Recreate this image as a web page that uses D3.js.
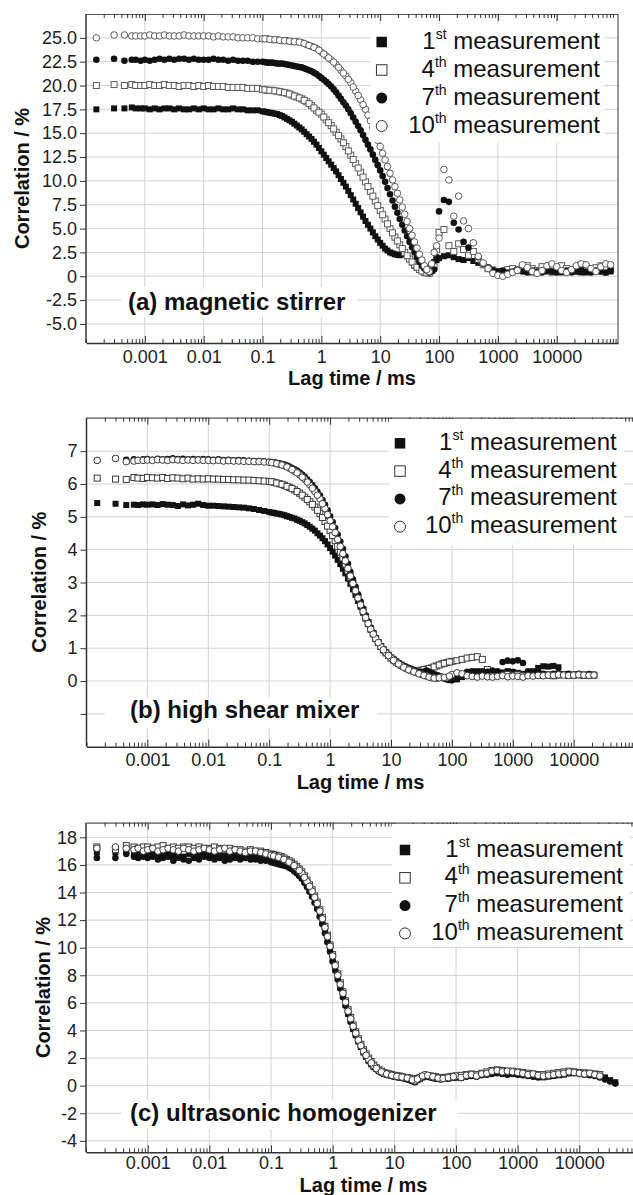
<!DOCTYPE html>
<html><head><meta charset="utf-8">
<script src="https://cdn.jsdelivr.net/npm/d3@7"></script>
<style>
body{margin:0;background:#fff}
svg{display:block}
text{font-family:"Liberation Sans",Arial,Helvetica,sans-serif}
</style>
</head><body>
<svg id="chart" width="633" height="1195"></svg>
<script>
// ---------------- DATA ----------------
const lagTimes = [0.00015,0.0003,0.00045,0.0006,0.0007,0.00085,
0.001,0.00121,0.00147,0.00178,0.00215,0.00261,0.00316,0.00383,0.00464,0.00562,0.00681,0.00825,
0.01,0.0121,0.0147,0.0178,0.0215,0.0261,0.0316,0.0383,0.0464,0.0562,0.0681,0.0825,
0.1,0.121,0.147,0.178,0.215,0.261,0.316,0.383,0.464,0.562,0.681,0.825,
1,1.21,1.47,1.78,2.15,2.61,3.16,3.83,4.64,5.62,6.81,8.25,
10,12.1,14.7,17.8,21.5,26.1,31.6,38.3,46.4,56.2,68.1,82.5,
100,121,147,178,215,261,316,383,464,562,681,825,
1000,1210,1470,1780,2150,2610,3160,3830,4640,5620,6810,8250,
10000,12100,14700,17800,21500,26100,31600,38300,46400,56200,68100,82500];
// extra channels in the decay region (0.1 - 100 ms)
const lagTimesMid = [0.11,0.133,0.162,0.196,0.237,0.287,0.348,0.422,0.511,0.619,0.75,0.908,
1.1,1.33,1.62,1.96,2.37,2.87,3.48,4.22,5.11,6.19,7.5,9.08,
11,13.3,16.2,19.6,23.7,28.7,34.8,42.2,51.1,61.9,75,90.8];

const legendNumbers = ["1","4","7","10"];
const legendSuffixes = ["st","th","th","th"];
const legendWord = "measurement";

const xTickValues = [0.001,0.01,0.1,1,10,100,1000,10000];
const xTickLabels = ["0.001","0.01","0.1","1","10","100","1000","10000"];
const xTitle = "Lag time / ms";
const yTitle = "Correlation / %";
const panelTitles = ["(a) magnetic stirrer","(b) high shear mixer","(c) ultrasonic homogenizer"];

// panel (a) magnetic stirrer
const aYTicks = [-5,-2.5,0,2.5,5,7.5,10,12.5,15,17.5,20,22.5,25];
const aYLabels = ["-5.0","-2.5","0","2.5","5.0","7.5","10.0","12.5","15.0","17.5","20.0","22.5","25.0"];
const a1 = [17.5,17.6,17.6,17.7,17.6,17.6,
17.6,17.5,17.6,17.5,17.6,17.6,17.5,17.6,17.5,17.5,17.6,17.5,
17.6,17.5,17.5,17.6,17.5,17.5,17.6,17.5,17.5,17.4,17.4,17.4,
17.3,17.2,17.1,17.0,16.8,16.5,16.2,15.8,15.4,14.9,14.4,13.8,
13.1,12.4,11.7,11.0,10.2,9.4,8.5,7.6,6.7,5.8,5.0,4.2,
3.5,2.9,2.5,2.3,2.2,2.4,1.8,1.1,0.7,0.5,0.9,1.5,
1.9,2.1,2.2,2.0,1.8,1.7,1.9,1.6,1.4,1.2,0.9,0.7,
0.5,0.5,0.6,0.5,0.6,0.7,0.5,0.4,0.5,0.6,0.5,0.4,
0.5,0.4,0.5,0.6,0.5,0.4,0.4,0.5,0.6,0.5,0.4,0.5];
const a1Mid = [17.25,17.15,17.05,16.9,16.65,16.35,16.0,15.6,15.15,14.65,14.1,13.45,
12.75,12.05,11.35,10.6,9.8,8.95,8.05,7.15,6.25,5.4,4.6,3.85,
3.2,2.7,2.4,2.25,2.3,2.1,1.45,0.9,0.6,0.6,1.2,1.7];
const a4 = [20.0,20.1,20.0,20.1,20.0,20.0,
20.0,20.1,20.0,20.0,20.1,20.0,20.0,19.9,20.0,20.0,19.9,20.0,
19.9,20.0,19.9,19.9,19.9,19.8,19.8,19.8,19.8,19.7,19.7,19.7,
19.6,19.5,19.5,19.4,19.3,19.2,19.0,18.8,18.6,18.3,17.9,17.4,
17.0,16.4,15.8,15.1,14.4,13.6,12.7,11.8,10.9,9.9,8.9,7.9,
6.9,6.0,5.0,4.1,3.3,2.5,1.8,1.2,0.7,0.4,0.3,1.0,
4.6,4.9,3.2,2.6,3.4,2.8,2.2,2.6,1.8,1.2,0.8,0.6,
0.4,0.5,0.7,0.8,0.6,0.9,1.1,0.8,0.6,1.0,0.7,0.5,
0.9,1.1,0.8,0.6,0.9,1.2,1.0,0.7,0.9,1.1,0.8,0.7];
const a4Mid = [19.55,19.5,19.45,19.35,19.25,19.1,18.9,18.7,18.45,18.1,17.65,17.2,
16.7,16.1,15.45,14.75,14.0,13.15,12.25,11.35,10.4,9.4,8.4,7.4,
6.45,5.5,4.55,3.7,2.9,2.15,1.5,0.95,0.55,0.35,0.6,2.8];
const a7 = [22.7,22.8,22.6,22.7,22.7,22.6,
22.7,22.6,22.7,22.8,22.7,22.8,22.7,22.8,22.8,22.7,22.8,22.7,
22.7,22.7,22.8,22.7,22.7,22.6,22.7,22.6,22.6,22.6,22.5,22.5,
22.5,22.4,22.4,22.3,22.3,22.2,22.1,22.0,21.9,21.7,21.5,21.2,
20.8,20.4,19.9,19.3,18.6,17.9,17.1,16.2,15.3,14.3,13.3,12.2,
11.1,9.9,8.6,7.3,6.0,4.8,3.6,2.5,1.5,0.8,0.4,0.7,
6.8,8.0,7.8,5.6,4.9,3.6,3.0,3.5,2.0,1.3,0.9,0.6,
0.5,0.6,0.4,0.5,0.7,0.5,0.4,0.6,0.5,0.4,0.6,0.5,
0.4,0.5,0.6,0.4,0.5,0.7,0.5,0.4,0.6,0.5,0.4,0.6];
const a7Mid = [22.45,22.4,22.35,22.3,22.25,22.15,22.05,21.95,21.8,21.6,21.35,21.0,
20.6,20.15,19.6,18.95,18.25,17.5,16.65,15.75,14.8,13.8,12.75,11.65,
10.5,9.25,7.95,6.65,5.4,4.2,3.05,2.0,1.1,0.6,0.5,2.0];
const a10 = [25.0,25.3,25.3,25.2,25.2,25.2,
25.2,25.3,25.2,25.2,25.3,25.2,25.2,25.2,25.3,25.2,25.2,25.2,
25.2,25.2,25.1,25.2,25.1,25.1,25.1,25.0,25.0,25.0,25.0,24.9,
24.9,24.9,24.8,24.8,24.7,24.7,24.6,24.6,24.5,24.3,24.1,23.9,
23.5,23.1,22.7,22.2,21.6,21.0,20.3,19.4,18.5,17.5,16.3,14.9,
13.6,12.2,10.8,9.4,8.0,6.5,5.0,3.6,2.3,1.1,0.5,2.5,
4.0,11.2,10.1,6.3,8.4,5.8,5.0,3.5,2.1,1.4,0.8,0.3,
0.1,0.0,0.2,0.4,0.6,1.2,0.9,0.5,0.3,0.6,1.1,1.3,
1.0,0.6,0.4,0.7,1.1,1.3,1.2,0.8,0.5,1.0,1.3,1.2];
const a10Mid = [24.9,24.85,24.8,24.75,24.7,24.65,24.6,24.55,24.4,24.2,24.0,23.7,
23.3,22.9,22.45,21.9,21.3,20.65,19.85,18.95,18.0,16.9,15.6,14.25,
12.9,11.5,10.1,8.7,7.25,5.75,4.3,2.95,1.7,0.7,1.3,3.2];

// panel (b) high shear mixer
const bYTicks = [-1,0,1,2,3,4,5,6,7];
const bYLabels = ["","0","1","2","3","4","5","6","7"];
const b1 = [5.42,5.40,5.36,5.37,5.36,5.38,
5.37,5.38,5.36,5.39,5.37,5.36,5.33,5.38,5.35,5.37,5.40,5.36,
5.34,5.34,5.33,5.32,5.31,5.30,5.29,5.28,5.26,5.24,5.21,5.18,
5.15,5.12,5.09,5.05,5.00,4.95,4.88,4.80,4.70,4.58,4.43,4.26,
4.05,3.82,3.56,3.28,2.96,2.62,2.26,1.90,1.56,1.28,1.04,0.85,
0.70,0.58,0.48,0.40,0.34,0.30,0.26,0.28,0.24,0.18,0.12,0.08,
0.10,0.05,0.12,0.22,0.28,0.30,0.26,0.30,0.28,0.24,0.26,0.30,
0.28,0.25,0.22,0.26,0.30,0.40,0.45,0.44,0.46,0.42];
const b1Mid = [5.13,5.1,5.07,5.02,4.97,4.91,4.84,4.75,4.64,4.5,4.35,4.16,
3.94,3.69,3.42,3.12,2.79,2.44,2.08,1.73,1.42,1.16,0.94,0.77,
0.64,0.53,0.44,0.37,0.32,0.28,0.3,0.25,0.2,0.15,0.1,0.06];
const b4 = [6.18,6.15,6.14,6.20,6.18,6.17,
6.20,6.19,6.18,6.20,6.17,6.19,6.18,6.16,6.18,6.15,6.16,6.15,
6.16,6.15,6.15,6.14,6.14,6.13,6.13,6.12,6.12,6.11,6.10,6.09,
6.08,6.05,6.01,5.96,5.90,5.82,5.72,5.60,5.46,5.30,5.10,4.86,
4.58,4.27,3.93,3.56,3.16,2.75,2.34,1.95,1.59,1.29,1.05,0.86,
0.70,0.58,0.48,0.40,0.34,0.30,0.33,0.36,0.40,0.46,0.52,0.56,
0.60,0.62,0.66,0.70,0.72,0.74,0.66,0.35,0.25,0.20,0.18,0.20,
0.17,0.19,0.16,0.18,0.20,0.17,0.19,0.18,0.16,0.18,0.20,0.17,
0.18,0.19,0.17,0.18,0.18];
const b4Mid = [6.07,6.03,5.99,5.93,5.86,5.77,5.66,5.53,5.38,5.2,4.98,4.72,
4.43,4.1,3.75,3.36,2.96,2.55,2.15,1.77,1.44,1.17,0.95,0.78,
0.64,0.53,0.44,0.37,0.32,0.31,0.35,0.38,0.43,0.49,0.54,0.58];
const b7 = [6.72,6.78,6.74,6.75,6.73,6.75,
6.76,6.74,6.77,6.75,6.76,6.78,6.76,6.77,6.75,6.76,6.75,6.76,
6.75,6.74,6.75,6.73,6.74,6.72,6.73,6.72,6.71,6.70,6.70,6.69,
6.68,6.66,6.63,6.59,6.53,6.45,6.35,6.22,6.06,5.87,5.65,5.37,
5.02,4.66,4.25,3.80,3.33,2.87,2.42,2.00,1.63,1.32,1.07,0.88,
0.72,0.60,0.50,0.42,0.36,0.30,0.26,0.32,0.24,0.15,0.10,0.05,
0.02,0.08,0.20,0.28,0.30,0.26,0.30,0.28,0.32,0.30,0.58,0.62,
0.60,0.63,0.55,0.30,0.26,0.25,0.22,0.20,0.22,0.24,0.20,0.22,
0.20,0.22,0.20,0.21,0.19];
const b7Mid = [6.67,6.65,6.61,6.56,6.49,6.4,6.29,6.14,5.97,5.76,5.51,5.2,
4.84,4.46,4.03,3.57,3.1,2.64,2.21,1.81,1.47,1.19,0.97,0.8,
0.66,0.55,0.46,0.39,0.33,0.28,0.29,0.28,0.2,0.12,0.08,0.03];
const b10 = [6.72,6.78,6.68,6.70,6.72,6.72,
6.73,6.72,6.74,6.73,6.72,6.74,6.73,6.72,6.73,6.72,6.73,6.72,
6.72,6.71,6.72,6.70,6.71,6.70,6.70,6.69,6.69,6.68,6.68,6.67,
6.66,6.64,6.60,6.55,6.48,6.39,6.28,6.14,5.97,5.77,5.55,5.25,
4.88,4.52,4.10,3.66,3.20,2.75,2.32,1.93,1.58,1.29,1.05,0.86,
0.70,0.57,0.47,0.38,0.31,0.25,0.20,0.15,0.10,0.08,0.12,0.10,
0.20,0.25,0.22,0.16,0.14,0.12,0.15,0.13,0.12,0.14,0.16,0.13,
0.15,0.14,0.12,0.16,0.15,0.17,0.16,0.18,0.17,0.19,0.18,0.17,
0.18,0.19,0.18,0.17,0.18];
const b10Mid = [6.65,6.62,6.58,6.52,6.44,6.34,6.21,6.06,5.87,5.66,5.4,5.07,
4.7,4.31,3.88,3.43,2.97,2.53,2.12,1.75,1.43,1.17,0.95,0.78,
0.63,0.52,0.42,0.34,0.28,0.22,0.17,0.12,0.09,0.1,0.11,0.15];

// panel (c) ultrasonic homogenizer
const cYTicks = [-4,-2,0,2,4,6,8,10,12,14,16,18];
const cYLabels = ["-4","-2","0","2","4","6","8","10","12","14","16","18"];
const c1 = [16.9,16.9,17.0,16.8,16.9,16.7,
16.8,16.9,16.7,16.8,16.9,16.7,16.8,16.6,16.8,16.7,16.8,16.9,
16.8,16.7,16.8,16.7,16.6,16.8,16.7,16.6,16.7,16.6,16.5,16.5,
16.4,16.3,16.2,16.0,15.8,15.5,15.1,14.5,13.8,12.9,11.8,10.5,
9.1,7.8,6.5,5.2,4.1,3.2,2.4,1.8,1.35,1.05,0.85,0.75,
0.65,0.6,0.55,0.45,0.3,0.5,0.7,0.65,0.55,0.5,0.5,0.55,
0.6,0.55,0.7,0.75,0.7,0.8,0.85,0.95,1.0,0.95,0.9,0.9,
0.85,0.8,0.75,0.7,0.65,0.6,0.65,0.7,0.75,0.8,0.9,0.95,
0.95,0.95,0.9,0.85,0.8,0.6,0.4,0.25];
const c1Mid = [16.35,16.25,16.1,15.9,15.65,15.3,14.8,14.15,13.35,12.35,11.15,9.8,
8.45,7.15,5.85,4.65,3.65,2.8,2.1,1.55,1.2,0.95,0.8,0.7,
0.62,0.58,0.5,0.38,0.4,0.6,0.68,0.6,0.52,0.5,0.52,0.58];
const c4 = [17.3,17.1,17.4,17.3,17.2,17.3,
17.3,17.2,17.3,17.4,17.2,17.3,17.2,17.3,17.3,17.2,17.3,17.2,
17.2,17.3,17.2,17.1,17.2,17.1,17.1,17.0,17.1,17.0,17.0,16.9,
16.8,16.7,16.6,16.4,16.2,15.9,15.5,14.9,14.2,13.3,12.2,10.9,
9.5,8.1,6.8,5.5,4.4,3.4,2.6,2.0,1.5,1.15,0.95,0.85,
0.75,0.7,0.6,0.55,0.45,0.6,0.75,0.7,0.65,0.55,0.6,0.65,
0.7,0.75,0.8,0.85,0.8,0.9,1.0,1.1,1.15,1.1,1.05,1.05,
1.0,0.95,0.9,0.85,0.8,0.8,0.85,0.9,0.95,1.0,1.05,1.0,
0.95,0.9,0.9,0.85,0.8];
const c4Mid = [16.75,16.65,16.5,16.3,16.05,15.7,15.2,14.55,13.75,12.75,11.55,10.2,
8.8,7.45,6.15,4.95,3.9,3.0,2.3,1.75,1.3,1.05,0.9,0.8,
0.72,0.65,0.58,0.5,0.52,0.68,0.72,0.68,0.6,0.58,0.62,0.68];
const c7 = [16.5,16.5,16.8,16.6,16.5,16.6,
16.5,16.6,16.4,16.5,16.6,16.3,16.5,16.4,16.3,16.5,16.4,16.6,
16.5,16.4,16.5,16.3,16.4,16.5,16.4,16.5,16.4,16.4,16.3,16.3,
16.2,16.1,16.0,15.9,15.7,15.4,15.0,14.4,13.7,12.8,11.7,10.4,
9.0,7.7,6.4,5.2,4.1,3.2,2.4,1.8,1.35,1.05,0.85,0.75,
0.65,0.6,0.5,0.4,0.25,0.55,0.7,0.6,0.5,0.45,0.5,0.55,
0.6,0.55,0.65,0.7,0.65,0.75,0.8,0.85,0.9,0.85,0.8,0.85,
0.8,0.75,0.7,0.65,0.6,0.65,0.7,0.75,0.8,0.85,0.9,0.9,
0.85,0.8,0.75,0.7,0.6,0.45,0.3,0.15];
const c7Mid = [16.15,16.05,15.95,15.8,15.55,15.2,14.7,14.05,13.25,12.25,11.05,9.7,
8.35,7.05,5.8,4.65,3.65,2.8,2.1,1.55,1.2,0.95,0.8,0.7,
0.62,0.55,0.45,0.32,0.4,0.62,0.65,0.55,0.48,0.48,0.52,0.58];
const c10 = [17.2,17.3,17.2,17.1,17.2,17.0,
17.1,17.2,17.0,17.1,17.2,17.1,17.0,17.2,17.1,17.0,17.1,17.2,
17.1,17.0,17.1,17.2,17.0,17.1,17.0,16.9,17.0,17.0,16.9,16.8,
16.7,16.6,16.5,16.3,16.1,15.8,15.4,14.8,14.1,13.2,12.1,10.8,
9.4,8.0,6.7,5.4,4.3,3.3,2.5,1.9,1.45,1.1,0.9,0.8,
0.7,0.65,0.6,0.5,0.35,0.6,0.8,0.7,0.6,0.5,0.55,0.6,
0.7,0.6,0.75,0.8,0.7,0.85,0.9,1.05,1.1,1.0,1.05,1.0,
0.95,0.9,0.8,0.85,0.75,0.7,0.75,0.8,0.85,0.9,1.0,0.95,
0.9,0.85,0.9,0.8,0.7];
const c10Mid = [16.65,16.55,16.4,16.2,15.95,15.6,15.1,14.45,13.65,12.65,11.45,10.1,
8.7,7.35,6.05,4.85,3.8,2.9,2.2,1.65,1.25,1.0,0.85,0.75,
0.68,0.62,0.55,0.42,0.48,0.7,0.75,0.65,0.55,0.52,0.58,0.65];

// ---------------- LAYOUT ----------------
const panels = [
  {left:86, right:618, top:14, bottom:343, xDomain:[1e-4,1.1e5], yDomain:[-7,27.5],
   yTicks:aYTicks, yLabels:aYLabels,
   series:[[a1,a1Mid],[a4,a4Mid],[a7,a7Mid],[a10,a10Mid]], title:panelTitles[0],
   yTitleX:22, xLabelPad:7, xTitleY:385, rightBorder:true, openStroke:"#5a5a5a",
   legend:{mx:381.7, y0:42, dy:28, tx:600, box:[370,24,604,142]},
   labelBox:[121,287,357,317], labelX:128, labelY:310},
  {left:86.5, right:634.6, top:417.7, bottom:746.7, xDomain:[1e-4,1e5], yDomain:[-2,8.02],
   yTicks:bYTicks, yLabels:bYLabels,
   series:[[b1,b1Mid],[b4,b4Mid],[b7,b7Mid],[b10,b10Mid]], title:panelTitles[1],
   yTitleX:39, xLabelPad:7, xTitleY:789, rightBorder:false, openStroke:"#3a3a3a",
   legend:{mx:400, y0:443.3, dy:27.8, tx:616.7, box:[389,419,624,545]},
   labelBox:[105,698,377,728], labelX:130, labelY:718},
  {left:86, right:641, top:822.7, bottom:1152.3, xDomain:[1e-4,1e5], yDomain:[-4.83,19.06],
   yTicks:cYTicks, yLabels:cYLabels,
   series:[[c1,c1Mid],[c4,c4Mid],[c7,c7Mid],[c10,c10Mid]], title:panelTitles[2],
   yTitleX:43, xLabelPad:4, xTitleY:1191.5, rightBorder:false, openStroke:"#3a3a3a",
   legend:{mx:405, y0:850, dy:27.8, tx:623, box:[392,824,630,946]},
   labelBox:[121,1100,457,1129], labelX:130, labelY:1121}
];

const gridColor = "#d2d2d2";
const axisColor = "#333";

const svg = d3.select("#chart");

function drawMarkers(sel, type, pts, size, stroke) {
  const filled = (type === 0 || type === 2);
  if (type === 0 || type === 1) {
    sel.selectAll(null).data(pts).join("rect")
      .attr("x", d => d[0] - size/2).attr("y", d => d[1] - size/2)
      .attr("width", size).attr("height", size)
      .attr("fill", filled ? "#111" : "#fff")
      .attr("stroke", filled ? "none" : stroke)
      .attr("stroke-width", filled ? 0 : 1);
  } else {
    sel.selectAll(null).data(pts).join("circle")
      .attr("cx", d => d[0]).attr("cy", d => d[1]).attr("r", size/2)
      .attr("fill", filled ? "#111" : "#fff")
      .attr("stroke", filled ? "none" : stroke)
      .attr("stroke-width", filled ? 0 : 1);
  }
}

panels.forEach(p => {
  const x = d3.scaleLog().domain(p.xDomain).range([p.left, p.right]);
  const y = d3.scaleLinear().domain(p.yDomain).range([p.bottom, p.top]);
  const g = svg.append("g");

  // gridlines
  g.append("g").selectAll("line").data(xTickValues).join("line")
    .attr("x1", d => x(d)).attr("x2", d => x(d))
    .attr("y1", p.top).attr("y2", p.bottom)
    .attr("stroke", gridColor).attr("stroke-width", 1);
  g.append("g").selectAll("line").data(p.yTicks).join("line")
    .attr("x1", p.left).attr("x2", p.right)
    .attr("y1", d => y(d)).attr("y2", d => y(d))
    .attr("stroke", gridColor).attr("stroke-width", 1);

  // panel label with white background
  const lb = p.labelBox;
  g.append("rect").attr("x", lb[0]).attr("y", lb[1]).attr("width", lb[2]-lb[0]).attr("height", lb[3]-lb[1]).attr("fill", "#fff");
  g.append("text").attr("x", p.labelX).attr("y", p.labelY)
    .attr("font-size", 24).attr("font-weight", "bold").attr("fill", "#111")
    .text(p.title);

  // data
  p.series.forEach((pair, si) => {
    const [vals, mids] = pair;
    const pts = vals.map((v, i) => [x(lagTimes[i]), y(v)])
      .concat(mids.map((v, j) => [x(lagTimesMid[j]), y(v)]));
    drawMarkers(g.append("g"), si, pts, si < 2 ? 6 : 6.6, p.openStroke);
  });

  // axes
  const isDecade = t => Math.abs(Math.log10(t) - Math.round(Math.log10(t))) < 1e-6;
  const minor = x.ticks().filter(t => !isDecade(t));
  const extraMajor = x.ticks().filter(t => isDecade(t) && !xTickValues.includes(t));

  const styleAxis = a => {
    a.selectAll(".domain").attr("stroke", axisColor).attr("stroke-width", 1.5);
    a.selectAll(".tick line").attr("stroke", axisColor).attr("stroke-width", 1);
    a.selectAll(".tick text").attr("fill", "#222").attr("font-size", 18)
      .attr("font-family", '"Liberation Sans",Arial,sans-serif');
  };

  const bx = g.append("g").attr("transform", `translate(0,${p.bottom})`)
    .call(d3.axisBottom(x).tickValues(xTickValues).tickSizeInner(-7).tickSizeOuter(0)
      .tickPadding(p.xLabelPad).tickFormat((d, i) => xTickLabels[i]));
  styleAxis(bx);
  const bxm = g.append("g").attr("transform", `translate(0,${p.bottom})`)
    .call(d3.axisBottom(x).tickValues(minor.concat(extraMajor)).tickSizeInner(-4).tickSizeOuter(0).tickFormat(""));
  styleAxis(bxm); bxm.select(".domain").remove();

  const tx = g.append("g").attr("transform", `translate(0,${p.top})`)
    .call(d3.axisTop(x).tickValues(xTickValues).tickSizeInner(-7).tickSizeOuter(0).tickFormat(""));
  styleAxis(tx); tx.select(".domain").attr("stroke", "#555").attr("stroke-width", 1.2);
  const txm = g.append("g").attr("transform", `translate(0,${p.top})`)
    .call(d3.axisTop(x).tickValues(minor).tickSizeInner(-4).tickSizeOuter(0).tickFormat(""));
  styleAxis(txm); txm.select(".domain").remove();

  const ly = g.append("g").attr("transform", `translate(${p.left},0)`)
    .call(d3.axisLeft(y).tickValues(p.yTicks).tickSizeInner(6).tickSizeOuter(0).tickPadding(3)
      .tickFormat((d, i) => p.yLabels[i]));
  styleAxis(ly);
  ly.select(".domain").attr("d", `M0,${p.bottom}V${p.top}`);

  if (p.rightBorder) {
    g.append("line").attr("x1", p.right).attr("x2", p.right).attr("y1", p.top).attr("y2", p.bottom)
      .attr("stroke", "#555").attr("stroke-width", 1.2);
  }

  // axis titles
  g.append("text").attr("x", (p.left + p.right) / 2).attr("y", p.xTitleY)
    .attr("text-anchor", "middle").attr("font-size", 20).attr("font-weight", "bold").attr("fill", "#111")
    .text(xTitle);
  g.append("text").attr("transform", `translate(${p.yTitleX},${(p.top + p.bottom) / 2}) rotate(-90)`)
    .attr("text-anchor", "middle").attr("dominant-baseline", "central")
    .attr("font-size", 20).attr("font-weight", "bold").attr("fill", "#111")
    .text(yTitle);

  // legend
  const L = p.legend;
  const lg = g.append("g");
  lg.append("rect").attr("x", L.box[0]).attr("y", L.box[1]).attr("width", L.box[2]-L.box[0]).attr("height", L.box[3]-L.box[1]).attr("fill", "#fff");
  legendNumbers.forEach((n, i) => {
    const yy = L.y0 + i * L.dy;
    drawMarkers(lg.append("g"), i, [[L.mx, yy]], i < 2 ? 10.5 : 11, "#333");
    const t = lg.append("text").attr("x", L.tx).attr("y", yy + 6.5)
      .attr("text-anchor", "end").attr("font-size", 24).attr("fill", "#111");
    t.append("tspan").text(n);
    t.append("tspan").attr("dy", -10).attr("font-size", 14).text(legendSuffixes[i]);
    t.append("tspan").attr("dy", 10).text("\u00a0" + legendWord);
  });
});
</script>
</body></html>
